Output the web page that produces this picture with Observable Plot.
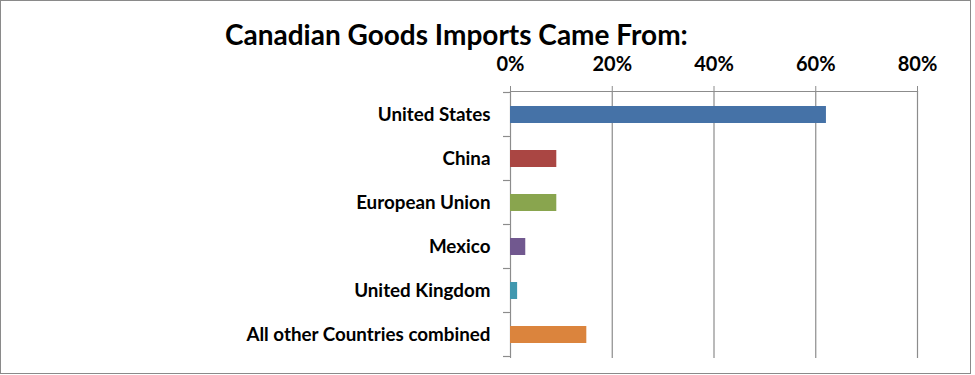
<!DOCTYPE html>
<html>
<head>
<meta charset="utf-8">
<script src="https://cdn.jsdelivr.net/npm/d3@7"></script>
<script src="https://cdn.jsdelivr.net/npm/@observablehq/plot@0.6"></script>
<style>
  html, body { margin: 0; padding: 0; background: #fff; }
  #wrap { position: relative; width: 975px; height: 375px; overflow: hidden; }
  #border { position: absolute; left: 0; top: 0; width: 969px; height: 372px; border: 1.5px solid #8a8a8a; pointer-events: none; }
  #title { position: absolute; left: 225px; top: 17px; margin: 0; font: bold 28px Lato, "Open Sans", sans-serif; color: #000; white-space: nowrap; }
  #chart { position: absolute; left: 0; top: 0; }
</style>
</head>
<body>
<div id="wrap">
  <div id="chart"></div>
  <h2 id="title">Canadian Goods Imports Came From:</h2>
  <div id="border"></div>
</div>
<script>
const categories = ["United States", "China", "European Union", "Mexico", "United Kingdom", "All other Countries combined"];
const shares = [0.621, 0.091, 0.091, 0.030, 0.014, 0.150];
const colors = ["#4572A7", "#AA4643", "#89A54E", "#71588F", "#4198AF", "#DB843D"];
const xTicks = [0, 0.2, 0.4, 0.6, 0.8];

const data = categories.map((c, i) => ({category: c, share: shares[i], color: colors[i]}));

const plot = Plot.plot({
  width: 975,
  height: 375,
  marginTop: 91,
  marginBottom: 17,
  marginLeft: 510,
  marginRight: 58,
  style: {fontFamily: "Lato, 'Open Sans', sans-serif", fontWeight: "bold", color: "#000", background: "transparent"},
  x: {domain: [0, 0.8], axis: null, label: null},
  y: {domain: categories, paddingInner: 0.61, paddingOuter: 0.305, axis: null, label: null},
  color: {type: "identity"},
  marks: [
    Plot.gridX(xTicks, {stroke: "#8c8c8c", strokeOpacity: 1, strokeWidth: 1.2}),
    Plot.frame({anchor: "top", stroke: "#8c8c8c", strokeWidth: 1.2}),
    Plot.axisX(xTicks, {anchor: "top", label: null, tickSize: 6, tickPadding: 15, stroke: "#8c8c8c", tickFormat: d3.format(".0%"), fontSize: 20, fontWeight: "bold", fill: "#000"}),
    Plot.axisY({anchor: "left", label: null, tickSize: 0, tickPadding: 20, fontSize: 18.8, fontWeight: "bold", fill: "#000"}),
    Plot.barX(data, {y: "category", x: "share", fill: "color"})
  ]
});

document.getElementById("chart").appendChild(plot);

// Category boundary tick marks on the left axis, from the library's scales
const ys = plot.scale("y");
const xs = plot.scale("x");
const x0 = xs.apply(0);
const gap = ys.step - ys.bandwidth;
const bounds = categories.map(c => ys.apply(c) - gap / 2);
bounds.push(ys.apply(categories[categories.length - 1]) + ys.bandwidth + gap / 2);
d3.select(plot).append("g")
  .attr("stroke", "#8c8c8c")
  .attr("stroke-width", 1.2)
  .selectAll("line")
  .data(bounds)
  .join("line")
  .attr("x1", x0 - 7)
  .attr("x2", x0)
  .attr("y1", d => d)
  .attr("y2", d => d);
</script>
</body>
</html>
